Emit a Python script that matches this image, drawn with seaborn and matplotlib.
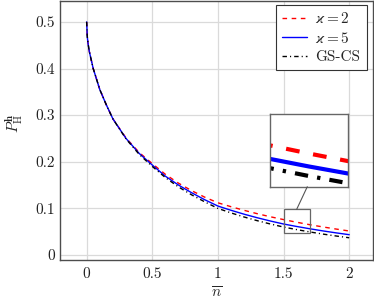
import numpy as np
import pandas as pd
import matplotlib
matplotlib.use("Agg")
import matplotlib.pyplot as plt
import seaborn as sns
from matplotlib.patches import Rectangle, ConnectionPatch

# ---- data ----
n_bar = [0.0, 0.005, 0.01, 0.02, 0.05, 0.1, 0.15, 0.2, 0.3, 0.4, 0.5, 0.6, 0.7,
         0.8, 0.9, 1.0, 1.1, 1.2, 1.3, 1.4, 1.5, 1.6, 1.7, 1.8, 1.9, 2.0]
p_kappa2 = [0.5, 0.468, 0.455, 0.437, 0.400, 0.355, 0.322, 0.292, 0.251, 0.220, 0.196,
            0.173, 0.154, 0.138, 0.124, 0.112, 0.1036, 0.0958, 0.0886, 0.0820, 0.0760,
            0.0703, 0.0650, 0.0602, 0.0557, 0.0515]
p_kappa5 = [0.5, 0.468, 0.455, 0.437, 0.400, 0.355, 0.322, 0.292, 0.250, 0.218, 0.193,
            0.169, 0.150, 0.1335, 0.1185, 0.105, 0.0959, 0.0875, 0.0799, 0.0729, 0.0665,
            0.0612, 0.0563, 0.0517, 0.0475, 0.0436]
p_gscs = [0.5, 0.468, 0.455, 0.437, 0.400, 0.355, 0.322, 0.292, 0.249, 0.216, 0.190,
          0.166, 0.146, 0.129, 0.114, 0.100, 0.0903, 0.0815, 0.0736, 0.0665, 0.0600,
          0.0545, 0.0495, 0.0449, 0.0408, 0.0370]
series_labels = [r'$\varkappa = 2$', r'$\varkappa = 5$', 'GS-CS']
xticks = [0, 0.5, 1, 1.5, 2]
xtick_labels = ['0', '0.5', '1', '1.5', '2']
yticks = [0, 0.1, 0.2, 0.3, 0.4, 0.5]
ytick_labels = ['0', '0.1', '0.2', '0.3', '0.4', '0.5']
zoom_x = (1.5, 1.7)
zoom_y = (0.047, 0.098)

df = pd.DataFrame({'n': n_bar, 'k2': p_kappa2, 'k5': p_kappa5, 'gs': p_gscs})

sns.set_theme(style='whitegrid')
plt.rcParams['font.family'] = ['cmr10', 'DejaVu Serif']
plt.rcParams['mathtext.fontset'] = 'cm'
plt.rcParams['axes.formatter.use_mathtext'] = True
plt.rcParams['axes.unicode_minus'] = False

fig = plt.figure(figsize=(3.74, 3.03), dpi=100)
ax = fig.add_axes([0.1604, 0.1419, 0.8382, 0.8548])

styles = [
    ('k2', '#ff0000', (0, (3.3, 3.3))),
    ('k5', '#0000ff', '-'),
    ('gs', '#000000', (0, (3.2, 2.2, 0.8, 2.2))),
]

for (col, color, ls), lab in zip(styles, series_labels):
    sns.lineplot(data=df, x='n', y=col, ax=ax, color=color, linestyle=ls,
                 linewidth=1.0, label=lab, sort=False, estimator=None)

ax.set_xlim(-0.203, 2.185)
ax.set_ylim(-0.0107, 0.5448)
ax.set_xticks(xticks, labels=xtick_labels)
ax.set_yticks(yticks, labels=ytick_labels)
ax.tick_params(axis='both', length=0, labelsize=11, colors='#222222')
ax.tick_params(axis='x', pad=5.0)
ax.tick_params(axis='y', pad=3.6)
ax.grid(True, color='#dadada', linewidth=0.9)
for s in ax.spines.values():
    s.set_color('#4d4d4d')
    s.set_linewidth(1.0)
    s.set_visible(True)

ax.set_xlabel(r'$\overline{n}$', fontsize=11)
ax.set_ylabel(r'$P_{\mathrm{H}}^{\mathbf{h}}$', fontsize=11)
ax.xaxis.set_label_coords(0.5, -0.100)
ax.xaxis.label.set_va('top')
ax.yaxis.set_label_coords(-0.108, 0.53)

leg = ax.legend(loc='upper right', bbox_to_anchor=(0.978, 0.985), borderaxespad=0,
                fontsize=11, frameon=True, fancybox=False, handlelength=1.65,
                handletextpad=0.55, labelspacing=0.3, borderpad=0.4)
leg.get_frame().set_edgecolor('#333333')
leg.get_frame().set_linewidth(0.8)
leg.get_frame().set_alpha(1.0)

# zoom box on main axes
ax.add_patch(Rectangle((zoom_x[0], zoom_y[0]), zoom_x[1] - zoom_x[0], zoom_y[1] - zoom_y[0],
                       fill=False, edgecolor='#666666', linewidth=0.9, zorder=5))

# inset (magnified view)
axin = fig.add_axes([0.7219, 0.3838, 0.2078, 0.2399])
for (col, color, ls), lab in zip(styles, series_labels):
    sns.lineplot(data=df, x='n', y=col, ax=axin, color=color, linestyle=ls,
                 linewidth=3.0, sort=False, estimator=None, legend=False)
axin.set_xlim(*zoom_x)
axin.set_ylim(*zoom_y)
axin.set_xticks([])
axin.set_yticks([])
axin.set_xlabel('')
axin.set_ylabel('')
axin.grid(False)
axin.set_facecolor('white')
for s in axin.spines.values():
    s.set_color('#666666')
    s.set_linewidth(1.0)
    s.set_visible(True)

con = ConnectionPatch(xyA=(1.6, zoom_y[1]), coordsA=ax.transData,
                      xyB=(0.48, 0.0), coordsB=axin.transAxes,
                      color='#555555', linewidth=0.8)
fig.add_artist(con)

fig.savefig('out.png', dpi=100)
